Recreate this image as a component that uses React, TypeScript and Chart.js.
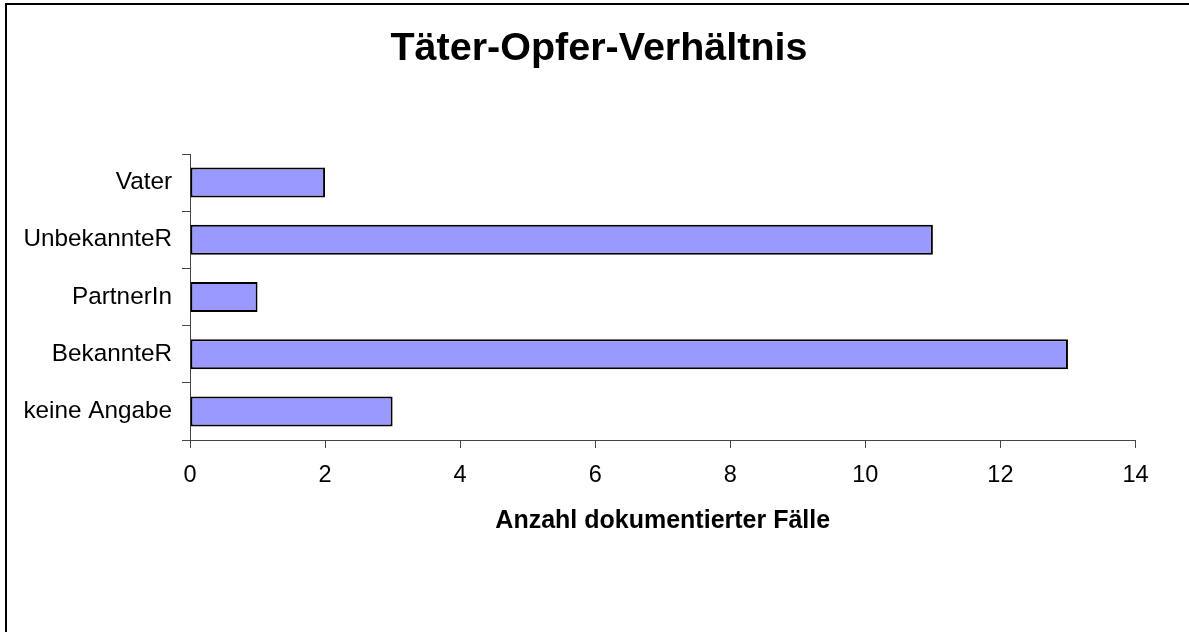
import React, { useEffect, useRef } from "react";
import { Chart, registerables } from "chart.js";

Chart.register(...registerables);

const chartTitle = "Täter-Opfer-Verhältnis";
const axisTitle = "Anzahl dokumentierter Fälle";
const categories = ["Vater", "UnbekannteR", "PartnerIn", "BekannteR", "keine Angabe"];
const values = [2, 11, 1, 13, 3];
const xMin = 0;
const xMax = 14;
const xStep = 2;

const FONT = "'Liberation Sans', Arial, sans-serif";
const W = 1189;
const H = 632;

const framePlugin = {
  id: "frameAndTitle",
  beforeDraw(chart: any) {
    const ctx = chart.ctx;
    ctx.save();
    ctx.fillStyle = "#ffffff";
    ctx.fillRect(0, 0, chart.width, chart.height);
    ctx.strokeStyle = "#000000";
    ctx.lineWidth = 2;
    ctx.beginPath();
    ctx.moveTo(6, chart.height);
    ctx.lineTo(6, 4);
    ctx.lineTo(chart.width, 4);
    ctx.stroke();
    ctx.restore();
  },
  afterDraw(chart: any) {
    const ctx = chart.ctx;
    ctx.save();
    ctx.fillStyle = "#000000";
    ctx.font = `bold 39.5px ${FONT}`;
    ctx.textAlign = "center";
    ctx.textBaseline = "middle";
    ctx.fillText(chartTitle, 599, 49);
    ctx.restore();
  },
};

export default function App() {
  const canvasRef = useRef<HTMLCanvasElement | null>(null);

  useEffect(() => {
    document.body.style.margin = "0";
    const canvas = canvasRef.current;
    if (!canvas) return;
    const chart = new Chart(canvas, {
      type: "bar",
      data: {
        labels: categories,
        datasets: [
          {
            data: values,
            backgroundColor: "#9999FF",
            borderColor: "#000000",
            borderWidth: 2,
            borderSkipped: false,
            barPercentage: 0.525,
            categoryPercentage: 1,
          },
        ],
      },
      options: {
        indexAxis: "y",
        responsive: false,
        animation: false,
        devicePixelRatio: 1,
        layout: { padding: { top: 154, left: 0, right: 53.5, bottom: 0 } },
        plugins: {
          legend: { display: false },
          title: { display: false },
          tooltip: { enabled: false },
        },
        scales: {
          x: {
            type: "linear",
            min: xMin,
            max: xMax,
            ticks: {
              stepSize: xStep,
              color: "#000000",
              font: { family: FONT, size: 23.5 },
              padding: 13,
              maxRotation: 0,
            },
            grid: {
              drawOnChartArea: false,
              drawTicks: true,
              tickLength: 8,
              color: "#444444",
            },
            border: { display: true, color: "#444444", width: 1 },
            title: {
              display: true,
              text: axisTitle,
              color: "#000000",
              font: { family: FONT, size: 25, weight: "bold" },
              padding: { top: 0, bottom: 96 },
            },
            afterFit(scale: any) {
              scale.height = H - 440;
            },
          },
          y: {
            type: "category",
            ticks: {
              color: "#000000",
              font: { family: FONT, size: 24.3 },
              padding: 10,
            },
            grid: {
              drawOnChartArea: false,
              drawTicks: true,
              tickLength: 8,
              color: "#444444",
              offset: true,
            },
            border: { display: true, color: "#444444", width: 1 },
            afterFit(scale: any) {
              scale.width = 190;
            },
          },
        },
      },
      plugins: [framePlugin],
    } as any);
    return () => chart.destroy();
  }, []);

  return (
    <div style={{ position: "absolute", left: 0, top: 0, width: W, height: H, background: "#fff" }}>
      <canvas ref={canvasRef} width={W} height={H} style={{ display: "block", width: W, height: H }} />
    </div>
  );
}
